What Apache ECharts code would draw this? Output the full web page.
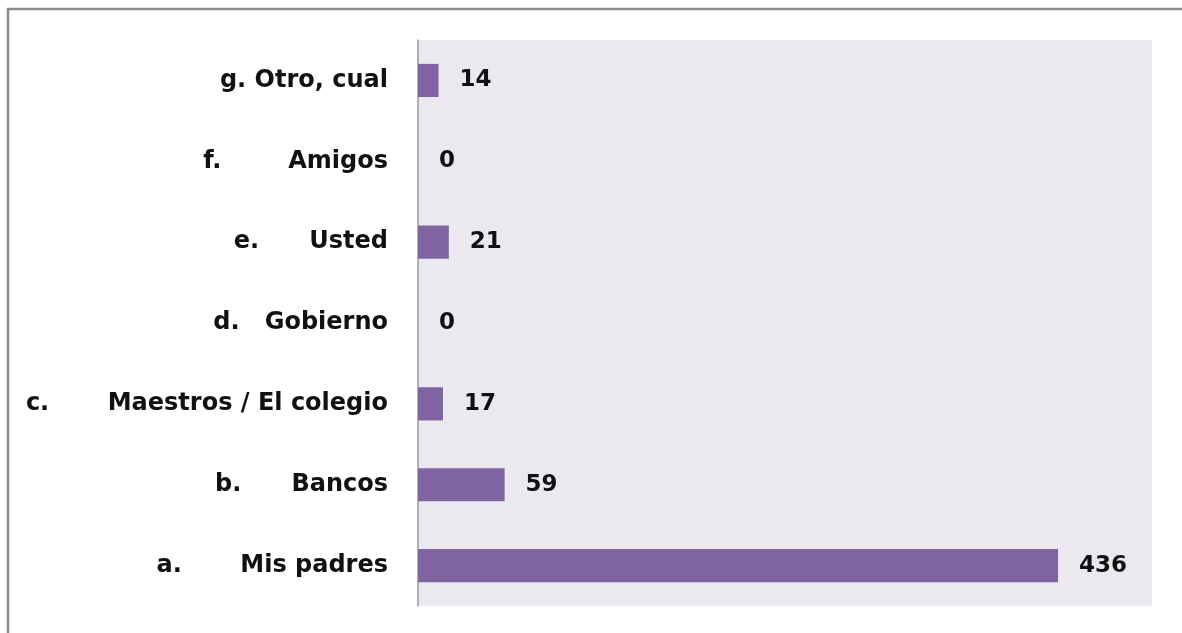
<!DOCTYPE html>
<html>
<head>
<meta charset="utf-8">
<style>
  html, body { margin: 0; padding: 0; background: #ffffff; }
  #chart { width: 1182px; height: 633px; }
</style>
<script src="https://cdn.jsdelivr.net/npm/echarts@6/dist/echarts.min.js"></script>
</head>
<body>
<div id="chart"></div>
<script>
// Survey answers, listed bottom to top
const categories = [
  'a.       Mis padres',
  'b.      Bancos',
  'c.       Maestros / El colegio',
  'd.   Gobierno',
  'e.      Usted',
  'f.        Amigos',
  'g. Otro, cual'
];
const counts = [436, 59, 17, 0, 21, 0, 14];

const chart = echarts.init(document.getElementById('chart'));

chart.setOption({
  animation: false,
  backgroundColor: '#ffffff',
  textStyle: { fontFamily: 'DejaVu Sans' },
  graphic: [{
    type: 'polyline',
    shape: { points: [[8, 640], [8, 9], [1190, 9]] },
    style: { stroke: '#8c8c8c', lineWidth: 2.5, fill: null },
    silent: true
  }],
  grid: {
    left: 418, right: 30, top: 40, bottom: 27,
    show: true, backgroundColor: '#ebe9ef', borderWidth: 0
  },
  xAxis: {
    type: 'value', min: 0, max: 500,
    show: false, splitLine: { show: false }
  },
  yAxis: {
    type: 'category',
    data: categories,
    axisLine: { show: true, lineStyle: { color: '#9a9a9a', width: 1.5 } },
    axisTick: { show: false },
    axisLabel: {
      margin: 30,
      color: '#111111',
      fontSize: 24,
      fontWeight: 'bold',
      fontFamily: 'DejaVu Sans'
    }
  },
  series: [{
    type: 'bar',
    data: counts,
    barCategoryGap: '59%',
    itemStyle: { color: '#8064a2' },
    label: {
      show: true,
      position: 'right',
      distance: 21,
      color: '#111111',
      fontSize: 23,
      fontWeight: 'bold',
      fontFamily: 'DejaVu Sans'
    }
  }]
});
</script>
</body>
</html>
